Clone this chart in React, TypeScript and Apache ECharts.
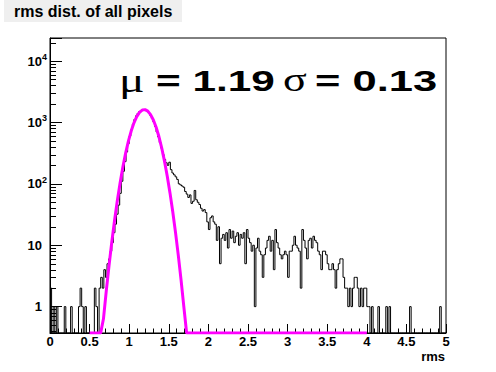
import React, { useEffect, useRef } from 'react';
import * as echarts from 'echarts';

const X_MIN = 0;
const X_MAX = 5;
const X_INTERVAL = 0.5;
const Y_MIN = 0.372;
const Y_MAX = 23700;
const BIN_WIDTH = 0.02;

// histogram contents, 250 bins of width 0.02 from 0 to 5
const COUNTS: number[] = [
  2, 0, 1, 0, 1, 0, 0, 0, 0, 1,
  0, 0, 0, 1, 0, 0, 0, 0, 1, 2,
  1, 0, 1, 0, 0, 0, 0, 0, 2, 1,
  0, 2, 3, 2, 4, 3, 5, 6, 8, 11,
  16, 22, 32, 45, 70, 110, 160, 230, 330, 450,
  600, 760, 940, 1120, 1280, 1400, 1500, 1560, 1600, 1620,
  1590, 1530, 1420, 1300, 1160, 1020, 860, 700, 580, 470,
  380, 300, 250, 220, 200, 225, 170, 150, 140, 130,
  118, 100, 96, 92, 88, 75, 68, 60, 66, 48,
  52, 78, 55, 50, 46, 40, 36, 38, 34, 24,
  18, 28, 30, 24, 22, 12, 20, 5, 13, 15,
  12, 16, 9, 18, 13, 17, 11, 14, 16, 10,
  15, 13, 16, 5, 18, 13, 11, 8, 10, 1,
  9, 13, 8, 7, 3, 7, 9, 12, 14, 8,
  12, 4, 18, 11, 9, 7, 6, 7, 8, 7,
  3, 8, 8, 10, 14, 10, 9, 8, 2, 18,
  12, 9, 6, 12, 13, 9, 14, 12, 11, 8,
  7, 4, 8, 8, 7, 5, 4, 4, 5, 4,
  2, 4, 5, 6, 6, 3, 2, 2, 1, 2,
  1, 2, 3, 3, 2, 1, 2, 1, 2, 2,
  1, 1, 0, 1, 0, 0, 0, 1, 0, 0,
  0, 0, 1, 0, 1, 0, 0, 0, 0, 0,
  0, 0, 0, 0, 0, 0, 0, 1, 0, 0,
  0, 0, 0, 0, 0, 0, 0, 0, 0, 0,
  0, 0, 0, 0, 0, 0, 1, 0, 0, 0,
];

// gaussian fit parameters
const FIT_MU = 1.19;
const FIT_SIGMA = 0.13;
const FIT_AMP = 1620;
const FIT_RANGE = [0.5, 4.0];
const FIT_NPX = 100;

const TITLE = 'rms dist. of all pixels';
const X_NAME = 'rms';
const Y_MINOR_TICKS: number[] = [];
for (let e = -1; e <= 4; e++) {
  for (let k = 2; k <= 9; k++) {
    const v = k * Math.pow(10, e);
    if (v > Y_MIN && v < Y_MAX) Y_MINOR_TICKS.push(v);
  }
}

function buildHist(): [number, number][] {
  const pts: [number, number][] = [];
  COUNTS.forEach((c, i) => {
    const v = c > Y_MIN ? c : Y_MIN;
    const x0 = +(X_MIN + i * BIN_WIDTH).toFixed(4);
    const x1 = +(X_MIN + (i + 1) * BIN_WIDTH).toFixed(4);
    pts.push([x0, v], [x1, v]);
  });
  return pts;
}

function buildFit(): [number, number][] {
  const pts: [number, number][] = [];
  for (let i = 0; i <= FIT_NPX; i++) {
    const x = FIT_RANGE[0] + ((FIT_RANGE[1] - FIT_RANGE[0]) * i) / FIT_NPX;
    const y = FIT_AMP * Math.exp(-0.5 * Math.pow((x - FIT_MU) / FIT_SIGMA, 2));
    pts.push([x, Math.max(y, Y_MIN)]);
  }
  return pts;
}

export default function App() {
  const ref = useRef<HTMLDivElement>(null);
  useEffect(() => {
    if (!ref.current) return;
    const chart = echarts.init(ref.current, undefined, { renderer: 'svg' });
    const SANS = 'Liberation Sans';
    const SERIF = 'Liberation Serif';
    const option: any = {
      animation: false,
      backgroundColor: '#ffffff',
      grid: {
        left: 50,
        top: 38,
        width: 396,
        height: 295,
        show: true,
        borderColor: '#000',
        borderWidth: 1,
        backgroundColor: 'transparent',
      },
      xAxis: {
        type: 'value',
        min: X_MIN,
        max: X_MAX,
        interval: X_INTERVAL,
        axisLine: { show: true, lineStyle: { color: '#000', width: 1 } },
        axisTick: { show: true, inside: true, length: 9, lineStyle: { color: '#000' } },
        minorTick: { show: true, splitNumber: 5, length: 4.5, lineStyle: { color: '#000' } },
        splitLine: { show: false },
        axisLabel: {
          color: '#000',
          fontFamily: SANS,
          fontWeight: 'bold',
          fontSize: 13,
          margin: 2,
        },
      },
      yAxis: {
        type: 'log',
        logBase: 10,
        min: Y_MIN,
        max: Y_MAX,
        axisLine: { show: true, lineStyle: { color: '#000', width: 1 } },
        axisTick: { show: true, inside: true, length: 12, lineStyle: { color: '#000' } },
        splitLine: { show: false },
        axisLabel: {
          color: '#000',
          margin: 3,
          formatter: (v: number) => {
            const lg = Math.log10(v);
            const e = Math.round(lg);
            if (Math.abs(lg - e) > 1e-6) return '';
            if (e === 0) return '{p|1}';
            if (e === 1) return '{p|10}';
            return `{b|10}{s|${e}}`;
          },
          rich: {
            p: { fontFamily: SANS, fontWeight: 'bold', fontSize: 13, color: '#000', padding: [0, 5, 0, 0] },
            b: { fontFamily: SANS, fontWeight: 'bold', fontSize: 13, color: '#000', lineHeight: 17 },
            s: { fontFamily: SANS, fontWeight: 'bold', fontSize: 9, color: '#000', lineHeight: 9, verticalAlign: 'top' },
          },
        },
      },
      series: [
        {
          type: 'line',
          data: buildHist(),
          symbol: 'none',
          clip: true,
          lineStyle: { color: '#000', width: 1 },
          silent: true,
          z: 3,
        },
        {
          type: 'line',
          data: buildFit(),
          symbol: 'none',
          clip: true,
          lineStyle: { color: '#ff00ff', width: 3 },
          silent: true,
          z: 4,
        },
        {
          type: 'custom',
          data: Y_MINOR_TICKS.map((v) => [X_MIN, v]),
          silent: true,
          z: 5,
          renderItem: (params: any, api: any) => {
            const p = api.coord([api.value(0), api.value(1)]);
            return {
              type: 'line',
              shape: { x1: p[0], y1: Math.round(p[1]) + 0.5, x2: p[0] + 6, y2: Math.round(p[1]) + 0.5 },
              style: { stroke: '#000', lineWidth: 1 },
            };
          },
        },
      ],
      graphic: [
        { type: 'rect', shape: { x: 4, y: 0, width: 178, height: 22 }, style: { fill: '#efefef' } },
        {
          type: 'text',
          x: 14,
          y: 11,
          style: { text: TITLE, font: `bold 16px "${SANS}"`, fill: '#000', verticalAlign: 'middle' },
        },
        {
          type: 'text',
          x: 445,
          y: 356,
          style: { text: X_NAME, font: `bold 13px "${SANS}"`, fill: '#000', align: 'right', verticalAlign: 'middle' },
        },
        {
          type: 'text',
          x: 119,
          y: 80,
          scaleX: 1.4,
          style: { text: 'μ', font: `34px "${SERIF}"`, fill: '#000', verticalAlign: 'middle' },
        },
        {
          type: 'text',
          x: 156,
          y: 81,
          scaleX: 1.46,
          style: { text: '= 1.19', font: `bold 29px "${SANS}"`, fill: '#000', verticalAlign: 'middle' },
        },
        {
          type: 'text',
          x: 283,
          y: 80,
          scaleX: 1.3,
          style: { text: 'σ', font: `34px "${SERIF}"`, fill: '#000', verticalAlign: 'middle' },
        },
        {
          type: 'text',
          x: 315,
          y: 81,
          scaleX: 1.5,
          style: { text: '= 0.13', font: `bold 29px "${SANS}"`, fill: '#000', verticalAlign: 'middle' },
        },
      ],
    };
    chart.setOption(option);
    return () => chart.dispose();
  }, []);
  return (
    <div
      ref={ref}
      style={{ position: 'fixed', left: 0, top: 0, width: 496, height: 372, background: '#fff' }}
    />
  );
}
